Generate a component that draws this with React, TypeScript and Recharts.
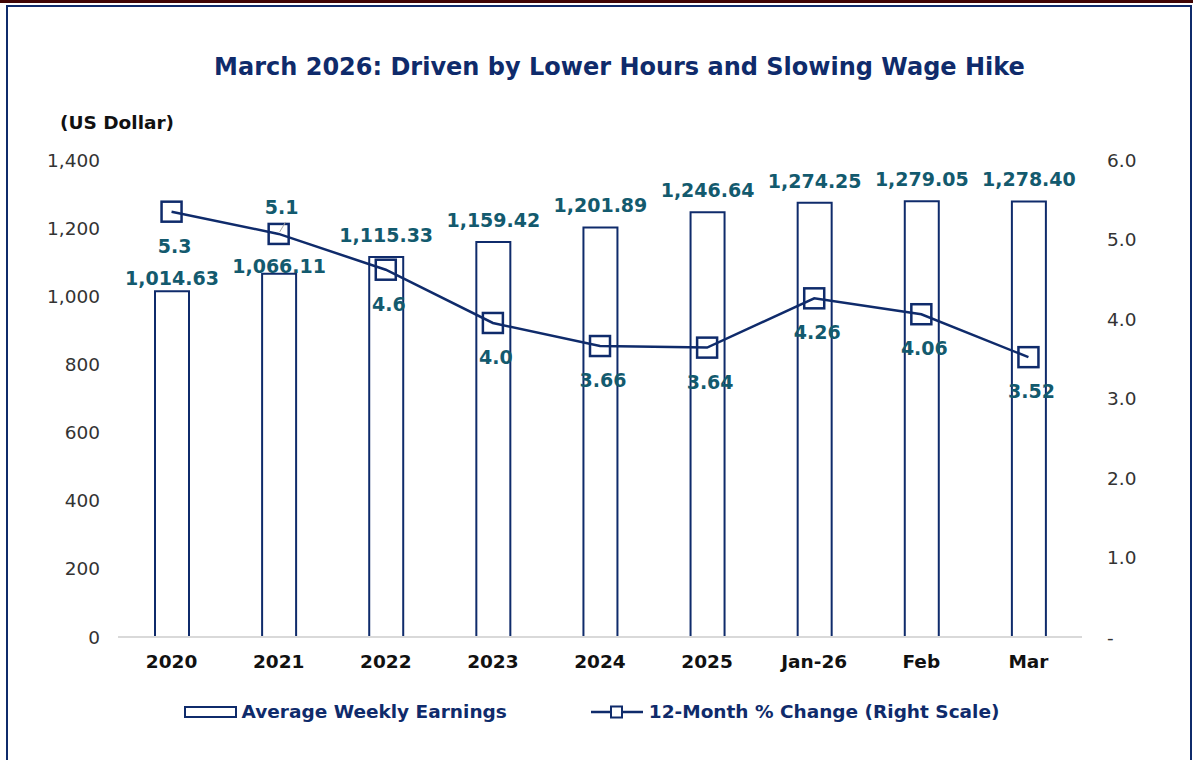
import React from 'react';
import { ComposedChart, Bar, Line, XAxis, YAxis, LabelList } from 'recharts';

// values
const categories = ['2020', '2021', '2022', '2023', '2024', '2025', 'Jan-26', 'Feb', 'Mar'];
const weeklyEarnings = [1014.63, 1066.11, 1115.33, 1159.42, 1201.89, 1246.64, 1274.25, 1279.05, 1278.4];
const pctChange = [5.35, 5.07, 4.62, 3.95, 3.66, 3.64, 4.26, 4.06, 3.52];
const pctLabels = ['5.3', '5.1', '4.6', '4.0', '3.66', '3.64', '4.26', '4.06', '3.52'];
const leftTicks = [0, 200, 400, 600, 800, 1000, 1200, 1400];
const rightTicks = [0, 1, 2, 3, 4, 5, 6];

const data = categories.map((name, i) => ({
	name,
	earnings: weeklyEarnings[i],
	pct: pctChange[i],
}));

const NAVY = '#0f2b6b';
const TEAL = '#135a6e';
const FONT = '"DejaVu Sans", Verdana, sans-serif';

// how far above the bar top each earnings label sits (first two are pushed down in the original)
const barLabelLift = [13, 8, 22, 22, 22, 22, 22, 22, 22];

const fmtMoney = (v: number) =>
	v.toLocaleString('en-US', { minimumFractionDigits: 2, maximumFractionDigits: 2 });

const BarLabel = (props: any) => {
	const { x, y, width, value, index } = props;
	return (
		<text
			x={x + width / 2}
			y={y - barLabelLift[index]}
			textAnchor="middle"
			dominantBaseline="central"
			fill={TEAL}
			fontSize={19}
			fontWeight="bold"
			fontFamily={FONT}
		>
			{fmtMoney(value)}
		</text>
	);
};

const LineLabel = (props: any) => {
	const { x, y, index } = props;
	const above = index === 1;
	return (
		<g>
			{above && <line x1={x + 1} y1={y - 2} x2={x + 7} y2={y - 12} stroke="#a6a6a6" strokeWidth={1} />}
			<text
				x={x + 3}
				y={above ? y - 27 : y + 34}
				textAnchor="middle"
				dominantBaseline="central"
				fill={TEAL}
				fontSize={19}
				fontWeight="bold"
				fontFamily={FONT}
			>
				{pctLabels[index]}
			</text>
		</g>
	);
};

const SquareDot = (props: any) => {
	const { cx, cy } = props;
	if (cx == null || cy == null) return null;
	return <rect x={cx - 10} y={cy - 10} width={20} height={20} fill="none" stroke={NAVY} strokeWidth={2.5} />;
};

const LegendRow = () => (
	<div
		style={{
			position: 'absolute',
			left: -5,
			top: 701,
			width: 1193,
			display: 'flex',
			justifyContent: 'center',
			alignItems: 'center',
			fontFamily: FONT,
			fontWeight: 'bold',
			fontSize: 18.5,
			color: NAVY,
		}}
	>
		<div style={{ display: 'flex', alignItems: 'center' }}>
			<svg width={54} height={14}>
				<rect x={1} y={2} width={51} height={10} fill="#fff" stroke={NAVY} strokeWidth={2} />
			</svg>
			<span style={{ marginLeft: 4 }}>Average Weekly Earnings</span>
		</div>
		<div style={{ display: 'flex', alignItems: 'center', marginLeft: 84 }}>
			<svg width={52} height={14}>
				<line x1={0} y1={7} x2={52} y2={7} stroke={NAVY} strokeWidth={2.5} />
				<rect x={20} y={1.5} width={11} height={11} fill="#fff" stroke={NAVY} strokeWidth={2} />
			</svg>
			<span style={{ marginLeft: 6 }}>12-Month % Change (Right Scale)</span>
		</div>
	</div>
);

export default function App() {
	return (
		<div
			style={{
				position: 'absolute',
				left: 0,
				top: 0,
				width: 1193,
				height: 760,
				background: '#fff',
				overflow: 'hidden',
				fontFamily: FONT,
			}}
		>
			{/* dark red strip on top of the page */}
			<div style={{ position: 'absolute', left: 0, top: 0, width: 1193, height: 3, background: '#3f0404' }} />
			{/* chart frame */}
			<div
				style={{
					position: 'absolute',
					left: 6,
					top: 5,
					width: 1182,
					height: 770,
					border: `2px solid ${NAVY}`,
				}}
			/>
			<div
				style={{
					position: 'absolute',
					left: 0,
					top: 53,
					width: 1239,
					textAlign: 'center',
					color: NAVY,
					fontWeight: 'bold',
					fontSize: 24,
				}}
			>
				March 2026: Driven by Lower Hours and Slowing Wage Hike
			</div>
			<div
				style={{
					position: 'absolute',
					left: 60,
					top: 112,
					color: '#111',
					fontWeight: 'bold',
					fontSize: 18.5,
				}}
			>
				(US Dollar)
			</div>

			<div style={{ position: 'absolute', left: 0, top: 0 }}>
				<ComposedChart
					width={1193}
					height={760}
					data={data}
					margin={{ top: 160, right: 0, bottom: 93, left: 0 }}
				>
					<XAxis
						dataKey="name"
						height={30}
						axisLine={{ stroke: '#d9d9d9', strokeWidth: 2 }}
						tickLine={false}
						tickSize={0}
						tickMargin={18}
						tick={{ fontSize: 18.5, fontWeight: 'bold', fill: '#111', fontFamily: FONT }}
					/>
					<YAxis
						yAxisId="left"
						width={118}
						domain={[0, 1400]}
						ticks={leftTicks}
						axisLine={false}
						tickLine={false}
						tickSize={0}
						tickMargin={18}
						tickFormatter={(v: number) => v.toLocaleString('en-US')}
						tick={{ fontSize: 18.5, fill: '#333', fontFamily: FONT }}
					/>
					<YAxis
						yAxisId="right"
						orientation="right"
						width={111}
						domain={[0, 6]}
						ticks={rightTicks}
						axisLine={false}
						tickLine={false}
						tickSize={0}
						tickMargin={25}
						tickFormatter={(v: number) => (v === 0 ? '-' : v.toFixed(1))}
						tick={{ fontSize: 18.5, fill: '#333', fontFamily: FONT, textAnchor: 'start' }}
					/>
					<Bar
						yAxisId="left"
						dataKey="earnings"
						barSize={34}
						fill="#fff"
						stroke={NAVY}
						strokeWidth={2}
						isAnimationActive={false}
					>
						<LabelList dataKey="earnings" content={<BarLabel />} />
					</Bar>
					<Line
						yAxisId="right"
						dataKey="pct"
						type="linear"
						stroke={NAVY}
						strokeWidth={2.5}
						dot={<SquareDot />}
						activeDot={false}
						isAnimationActive={false}
					>
						<LabelList dataKey="pct" content={<LineLabel />} />
					</Line>
				</ComposedChart>
			</div>
			<LegendRow />
		</div>
	);
}
